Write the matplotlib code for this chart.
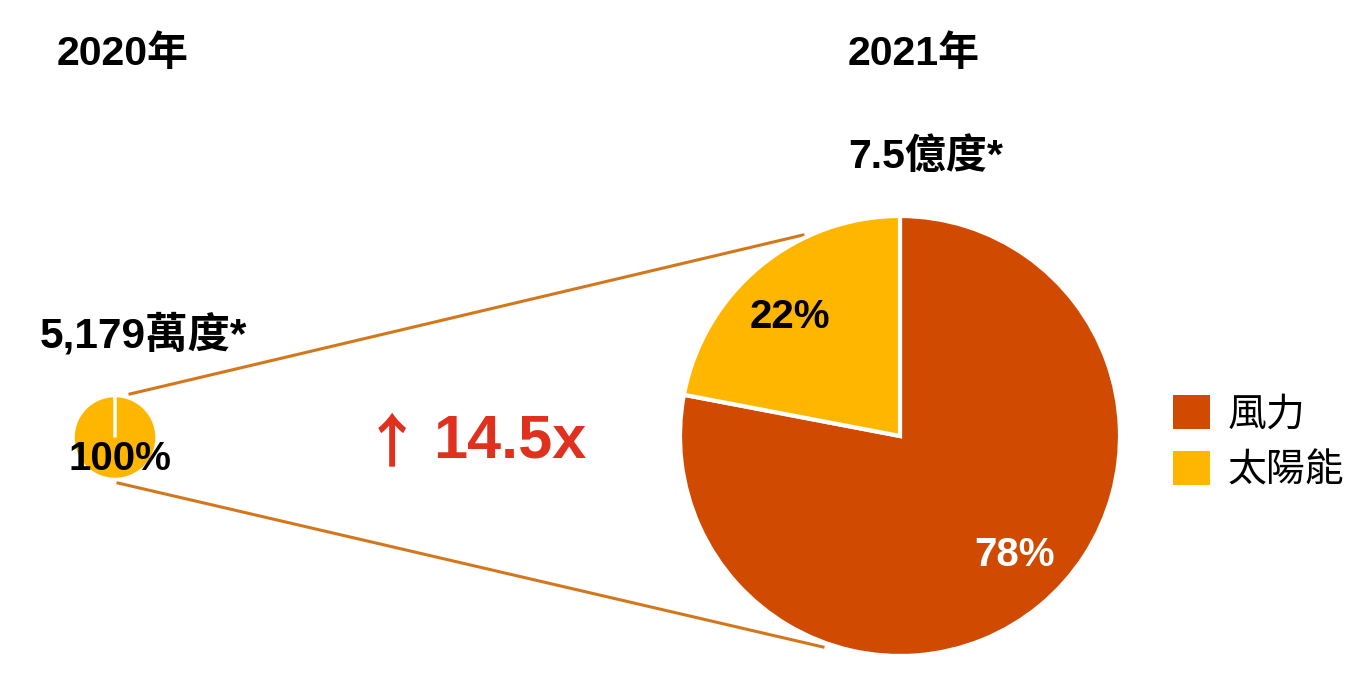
import matplotlib
matplotlib.use("Agg")
import matplotlib.pyplot as plt
from matplotlib.patches import Patch

# ---- data ----
years = ["2020年", "2021年"]
totals = ["5,179萬度*", "7.5億度*"]
categories = ["風力", "太陽能"]
share_2020 = [0, 100]
share_2021 = [78, 22]
growth_label = "14.5x"

WIND = "#D04A02"
SOLAR = "#FFB600"
LINE = "#D4771C"
RED = "#E0301E"

FONT = ["Liberation Sans", "Noto Sans CJK TC", "DejaVu Sans"]
plt.rcParams["font.family"] = FONT

W, H = 1365, 682
fig = plt.figure(figsize=(W / 100, H / 100), dpi=100)
ax = fig.add_axes([0, 0, 1, 1])

def Y(y):
    return H - y

# small pie (2020)
c_small = (115, Y(437.5))
r_small = 42
w20, _ = ax.pie(share_2020, colors=[WIND, SOLAR], startangle=90, counterclock=False,
                center=c_small, radius=r_small, frame=True,
                wedgeprops=dict(edgecolor="white", linewidth=2.5))
for w, v in zip(w20, share_2020):
    if v == 0:
        w.set_zorder(5)

# large pie (2021)
c_big = (900, Y(436))
r_big = 220
ax.pie(share_2021, colors=[WIND, SOLAR], startangle=90, counterclock=False,
       center=c_big, radius=r_big, frame=True,
       wedgeprops=dict(edgecolor="white", linewidth=3.0))

ax.set_xlim(0, W)
ax.set_ylim(0, H)
ax.set_aspect("equal")
ax.axis("off")

# connector lines
ax.plot([130, 803], [Y(394), Y(235)], color=LINE, lw=2.2, zorder=0)
ax.plot([118, 823], [Y(483), Y(647)], color=LINE, lw=2.2, zorder=0)

# titles
ax.text(57, Y(54), years[0], fontsize=29.5, fontweight="bold", ha="left", va="center")
ax.text(848, Y(54), years[1], fontsize=29.5, fontweight="bold", ha="left", va="center")
ax.text(40, Y(335), totals[0], fontsize=30.5, fontweight="bold", ha="left", va="center")
ax.text(848, Y(157), totals[1], fontsize=29.5, fontweight="bold", ha="left", va="center")

# percent labels
ax.text(120, Y(459), f"{share_2020[1]}%", fontsize=29, fontweight="bold", ha="center", va="center")
ax.text(790, Y(317), f"{share_2021[1]}%", fontsize=29, fontweight="bold", ha="center", va="center")
ax.text(1015, Y(555), f"{share_2021[0]}%", fontsize=29, fontweight="bold", ha="center", va="center",
        color="white")

# growth
ax.text(392, Y(444), "↑", fontsize=42, color=RED, ha="center", va="center",
        family=["Noto Sans CJK TC", "DejaVu Sans"], fontweight="bold")
ax.text(433, Y(442), growth_label, fontsize=44, fontweight="bold", color=RED,
        ha="left", va="center")

# legend
handles = [Patch(facecolor=WIND, edgecolor="none"), Patch(facecolor=SOLAR, edgecolor="none")]
ax.legend(handles, categories, loc="center left", bbox_to_anchor=(1173 / W, 1 - 442.5 / H),
          frameon=False, fontsize=28, handlelength=0.95, handleheight=0.95,
          handletextpad=0.46, labelspacing=0.46, borderaxespad=0, borderpad=0)

fig.savefig("out.png", dpi=100)
